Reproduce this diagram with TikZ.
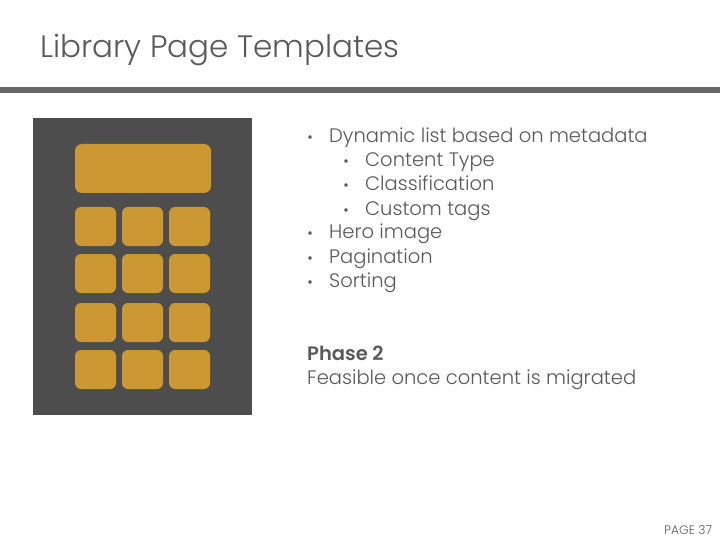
\documentclass[tikz,border=0pt]{standalone}
\usepackage{fontspec}
\setmainfont{Poppins Light}[BoldFont=Poppins SemiBold]
\definecolor{slidegray}{HTML}{595959}
\definecolor{bargray}{HTML}{666666}
\definecolor{panelgray}{HTML}{4D4D4D}
\definecolor{keygold}{HTML}{CB9832}
\tikzset{
  txt/.style={anchor=base west,inner sep=0pt,text=slidegray,font=\fontsize{19.5}{23}\selectfont},
  dot/.style={anchor=base,inner sep=0pt,text=slidegray,font=\fontsize{15}{18}\selectfont},
  key/.style={fill=keygold,rounded corners=6pt}
}
\begin{document}
\begin{tikzpicture}[x=1pt,y=-1pt]
   \useasboundingbox (0,0) rectangle (720,540);
   \fill[white] (0,0) rectangle (720,540);
   \node[txt,font=\fontsize{31}{37}\selectfont] (title) at (40,58) {Library Page Templates};
   \fill[bargray] (0,87) rectangle (720,93);
   % calculator
   \fill[panelgray] (33,118) rectangle (252,415);
   \fill[key,rounded corners=7pt] (75,144) rectangle (211,193);
   \fill[key] (75,207) rectangle (116,246);
   \fill[key] (122,207) rectangle (163,246);
   \fill[key] (169,207) rectangle (210,246);
   \fill[key] (75,254) rectangle (116,293);
   \fill[key] (122,254) rectangle (163,293);
   \fill[key] (169,254) rectangle (210,293);
   \fill[key] (75,303) rectangle (116,342);
   \fill[key] (122,303) rectangle (163,342);
   \fill[key] (169,303) rectangle (210,342);
   \fill[key] (75,350) rectangle (116,389);
   \fill[key] (122,350) rectangle (163,389);
   \fill[key] (169,350) rectangle (210,389);
   % bullets
   \node[dot] (d1) at (310,143) {•};
   \node[txt] (t1) at (329,143) {Dynamic list based on metadata};
   \node[dot] (d2) at (346,167) {•};
   \node[txt] (t2) at (365,167) {Content Type};
   \node[dot] (d3) at (346,191) {•};
   \node[txt] (t3) at (365,191) {Classification};
   \node[dot] (d4) at (346,215) {•};
   \node[txt] (t4) at (365,215) {Custom tags};
   \node[dot] (d5) at (310,239) {•};
   \node[txt] (t5) at (329,239) {Hero image};
   \node[dot] (d6) at (310,263) {•};
   \node[txt] (t6) at (329,263) {Pagination};
   \node[dot] (d7) at (310,287) {•};
   \node[txt] (t7) at (329,287) {Sorting};
   \node[txt] (phase) at (307,360) {\bfseries Phase 2};
   \node[txt] (note) at (307,384) {Feasible once content is migrated};
   \node[txt,font=\fontsize{12.3}{14}\selectfont] (page) at (664,534) {PAGE 37};
\end{tikzpicture}
\end{document}
